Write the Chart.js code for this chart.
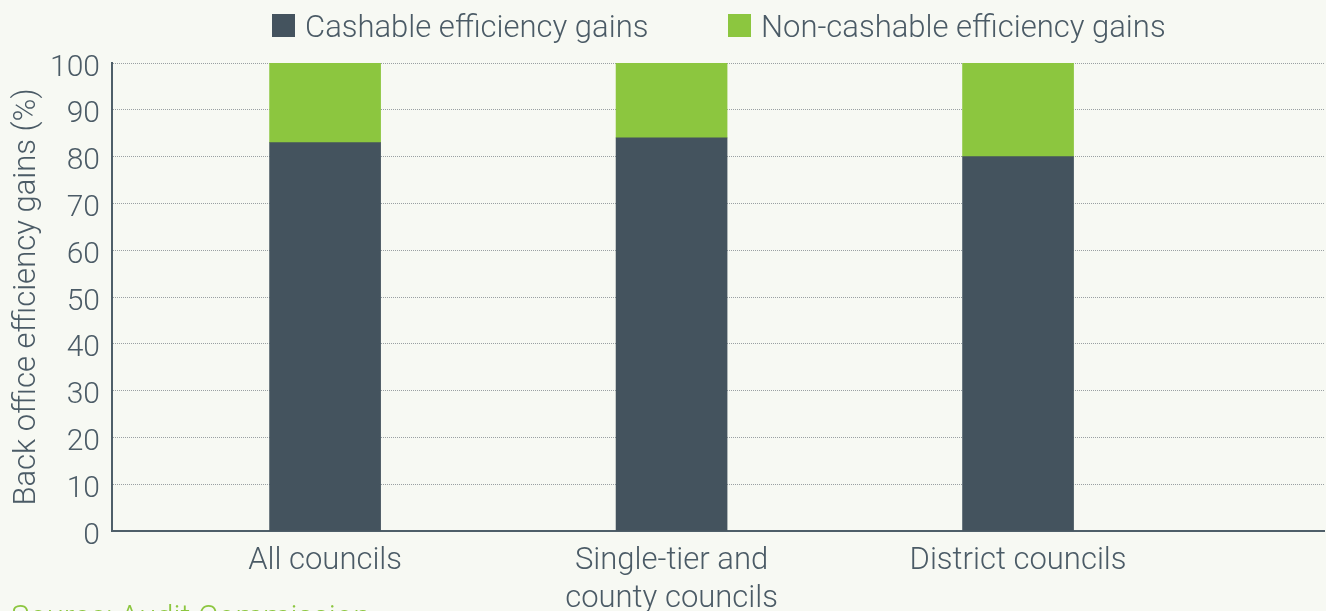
<!DOCTYPE html>
<html>
<head>
<meta charset="utf-8">
<script src="https://cdn.jsdelivr.net/npm/chart.js@4.4.1/dist/chart.umd.min.js"></script>
<style>
    html, body { margin: 0; padding: 0; background: #f7f9f3; overflow: hidden; }
    #wrap { position: relative; width: 1326px; height: 611px; font-family: Roboto, "Liberation Sans", sans-serif; font-weight: 300; }
    #chart { position: absolute; left: 0; top: 0; }
    .legend-item { position: absolute; top: 11px; height: 31px; line-height: 31px; font-size: 31px; color: #4b5b66; white-space: nowrap; }
    .legend-item i { position: absolute; left: 0; top: 3px; width: 23px; height: 23px; }
    .legend-item span { position: absolute; left: 33px; top: 0; }
    #source { position: absolute; left: 11px; top: 601px; font-size: 31px; line-height: 31px; color: #8cc63f; white-space: nowrap; }
</style>
</head>
<body>
<div id="wrap">
    <canvas id="chart" width="1326" height="611"></canvas>
    <div id="legend"></div>
    <div id="source">Source: Audit Commission</div>
</div>
<script>
// categories and series
const categories = ['All councils', ['Single-tier and', 'county councils'], 'District councils'];
const seriesNames = ['Cashable efficiency gains', 'Non-cashable efficiency gains'];
const cashable = [83, 84, 80];
const nonCashable = [17, 16, 20];
const yTicks = [0, 10, 20, 30, 40, 50, 60, 70, 80, 90, 100];

const dark = '#44535e';
const green = '#8cc63f';
const textCol = '#4b5b66';
const font = { family: 'Roboto, "Liberation Sans", sans-serif', weight: 300 };

const toPoints = arr => arr.map((v, i) => ({ x: i, y: v }));

const chart = new Chart(document.getElementById('chart'), {
    type: 'bar',
    data: {
        datasets: [
            { label: seriesNames[0], data: toPoints(cashable), backgroundColor: dark, barThickness: 111 },
            { label: seriesNames[1], data: toPoints(nonCashable), backgroundColor: green, barThickness: 111 },
        ],
    },
    options: {
        responsive: false,
        animation: false,
        layout: { padding: { top: 63, right: 2, bottom: 0, left: 0 } },
        plugins: {
            legend: { display: false },
            tooltip: { enabled: false },
        },
        scales: {
            x: {
                type: 'linear',
                stacked: true,
                offset: false,
                min: -0.615,
                max: 2.883,
                afterBuildTicks: axis => {
                    axis.ticks = categories.map((c, i) => ({ value: i }));
                },
                afterFit: axis => { axis.height = 80; },
                ticks: {
                    color: textCol,
                    font: { ...font, size: 31, lineHeight: 1.2 },
                    padding: 12,
                    maxRotation: 0,
                    autoSkip: false,
                    callback: v => categories[v],
                },
                grid: { display: false, drawTicks: false, offset: false },
                border: { display: true, color: '#4f5f69', width: 2 },
            },
            y: {
                stacked: true,
                min: 0,
                max: 100,
                afterBuildTicks: axis => {
                    axis.ticks = yTicks.map(v => ({ value: v }));
                },
                afterFit: axis => { axis.width = 112; },
                ticks: {
                    color: textCol,
                    font: { ...font, size: 30 },
                    padding: 12,
                    labelOffset: 5,
                },
                grid: { color: '#9aa0a3', lineWidth: 1, drawTicks: false },
                border: { display: true, color: '#4f5f69', width: 2, dash: [1, 1] },
                title: {
                    display: true,
                    text: 'Back office efficiency gains (%)',
                    color: textCol,
                    font: { ...font, size: 31, lineHeight: 1.2 },
                    padding: { top: 9, bottom: 0 },
                },
            },
        },
    },
});

// legend drawn as html, colours taken from the datasets
const legendLeft = [272, 728];
const legend = document.getElementById('legend');
chart.data.datasets.forEach((ds, i) => {
    const item = document.createElement('div');
    item.className = 'legend-item';
    item.style.left = legendLeft[i] + 'px';
    item.innerHTML = `<i style="background:${ds.backgroundColor}"></i><span>${ds.label}</span>`;
    legend.appendChild(item);
});
</script>
</body>
</html>
